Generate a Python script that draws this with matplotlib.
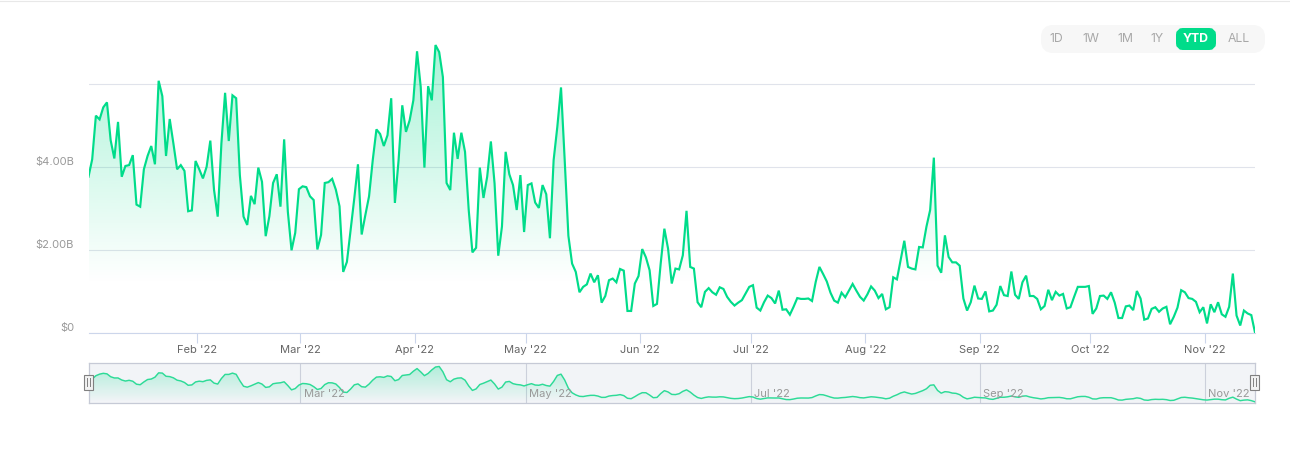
import matplotlib
matplotlib.use("Agg")
import matplotlib.pyplot as plt
import matplotlib.dates as mdates
from matplotlib.patches import FancyBboxPatch, Rectangle
import numpy as np
import pandas as pd

plt.rcParams['font.family'] = ['Inter', 'DejaVu Sans']

# Volume journalier, en milliards de dollars, mois par mois
jan = [3.77,4.19,5.24,5.15,5.44,5.56,4.65,4.21,5.09,3.77,4.03,4.05,4.29,3.10,3.05,3.95,4.27,4.51,4.07,6.08,
       5.71,4.27,5.16,4.57,3.95,4.05,3.91,2.94,2.96,4.15]
feb = [3.95,3.73,4.01,4.64,3.46,2.81,4.57,5.79,4.63,5.73,5.66,3.81,2.81,2.61,3.31,3.11,3.99,3.65,2.34,2.82,
       3.62,3.83,3.05,4.67,2.93,2.00,2.42,3.47]
mar = [3.54,3.52,3.30,3.21,2.02,2.37,3.62,3.64,3.72,3.46,3.06,1.48,1.72,2.49,3.25,4.07,2.38,2.85,3.30,4.17,
       4.91,4.80,4.51,4.77,5.66,3.14,4.17,5.49,4.85,5.13,5.61]
apr = [6.79,5.93,3.99,5.95,5.61,6.94,6.77,6.17,3.62,3.45,4.83,4.20,4.83,4.37,2.97,1.95,2.06,3.99,3.26,3.77,
       4.62,3.61,1.87,2.57,4.37,3.83,3.57,2.97,3.81,2.44]
may = [3.57,3.61,3.15,3.02,3.57,3.35,2.29,4.17,4.97,5.92,4.17,2.35,1.68,1.48,0.99,1.12,1.18,1.44,1.23,1.40,
       0.74,0.90,1.28,1.32,1.23,1.55,1.51,0.54,0.54,1.20,1.38]
jun = [2.03,1.83,1.52,0.66,0.71,1.68,2.52,2.04,1.20,1.56,1.54,1.88,2.95,1.60,1.56,0.75,0.63,1.00,1.09,0.99,
       0.93,1.11,1.07,0.88,0.76,0.67,0.74,0.80,0.96,1.12]
jul = [1.16,0.62,0.55,0.75,0.91,0.85,0.72,1.03,0.57,0.58,0.45,0.64,0.85,0.83,0.83,0.84,0.78,1.24,1.60,1.43,
       1.25,0.98,0.79,0.74,0.98,0.87,1.03,1.19,1.03,0.88,0.79]
aug = [0.94,1.13,1.03,0.85,0.95,0.58,0.63,1.35,1.30,1.76,2.23,1.60,1.56,1.54,2.08,2.07,2.57,2.97,4.23,1.63,
       1.46,2.36,1.84,1.71,1.71,1.63,0.84,0.55,0.75,1.15,0.84]
sep = [0.83,1.01,0.53,0.55,0.69,1.14,0.92,0.90,1.49,0.93,0.83,1.23,1.39,0.90,0.90,0.83,0.58,0.66,1.05,0.80,
       1.00,0.91,0.95,0.60,0.63,0.88,1.12,1.12,1.12,1.14]
oct_ = [0.47,0.60,0.90,0.91,0.83,0.99,0.74,0.37,0.37,0.65,0.67,0.56,1.02,0.84,0.33,0.36,0.59,0.63,0.52,0.60,
        0.64,0.22,0.40,0.62,1.04,0.99,0.85,0.83,0.76,0.51,0.63]
nov = [0.24,0.70,0.51,0.75,0.46,0.40,0.64,1.44,0.43,0.19,0.55,0.48,0.44,0.02]

y_ticks = [0, 2, 4, 6]
y_labels = ["$0", "$2.00B", "$4.00B", ""]
months = ["2022-02-01", "2022-03-01", "2022-04-01", "2022-05-01", "2022-06-01",
          "2022-07-01", "2022-08-01", "2022-09-01", "2022-10-01", "2022-11-01"]
nav_months = ["2022-03-01", "2022-05-01", "2022-07-01", "2022-09-01", "2022-11-01"]
buttons = ["1D", "1W", "1M", "1Y", "YTD", "ALL"]

GREEN = "#00dc8a"
W, H = 1290, 451

volume = np.array(jan + feb + mar + apr + may + jun + jul + aug + sep + oct_ + nov)
dates = pd.date_range("2022-01-02 14:00", periods=len(volume), freq="D")
x = mdates.date2num(dates)


# Crée des axes à partir de coordonnées en pixels
def axes_px(left, top, right, bottom):
    return fig.add_axes([left / W, 1 - bottom / H, (right - left) / W, (bottom - top) / H])


# Remplit sous la courbe avec un dégradé vert qui s'efface vers le bas
def gradient_fill(ax, xs, ys, y_top, y_bottom, alpha_top):
    poly = ax.fill_between(xs, ys, 0, color="none", lw=0)
    grad = np.zeros((256, 1, 4))
    grad[:, :, :3] = matplotlib.colors.to_rgb(GREEN)
    grad[:, :, 3] = np.linspace(alpha_top, 0, 256)[:, None]
    im = ax.imshow(grad, aspect="auto", origin="upper", interpolation="bilinear",
                   extent=[xs[0], xs[-1], y_bottom, y_top], zorder=1)
    im.set_clip_path(poly.get_paths()[0], transform=ax.transData)


fig = plt.figure(figsize=(W / 100, H / 100), dpi=100, facecolor="white")

# Graphique principal
ax = axes_px(88.5, 30, 1255, 333.4)
ax.patch.set_alpha(0)
gradient_fill(ax, x, volume, 7.0, 1.2, 0.34)
ax.plot(x, volume, color=GREEN, lw=1.55, zorder=3, solid_joinstyle="miter")
ax.set_xlim(x[0], x[-1])
ax.set_ylim(0, 303.4 / 41.55)
ax.set_yticks(y_ticks)
ax.set_yticklabels(y_labels, color="#999999", fontsize=8)
for lab in ax.get_yticklabels():
    lab.set_verticalalignment("bottom")
ax.set_xticks(mdates.date2num(pd.to_datetime(months)))
ax.xaxis.set_major_formatter(mdates.DateFormatter("%b '%y"))
ax.tick_params(axis="y", length=0, pad=10.4)
ax.tick_params(axis="x", length=7, width=0.8, color="#ccd6eb", labelcolor="#666666", labelsize=8, pad=1.5)
ax.grid(axis="y", color="#e0e3eb", lw=0.8, zorder=0)
ax.set_axisbelow(True)
for side in ["top", "right", "left"]:
    ax.spines[side].set_visible(False)
ax.spines["bottom"].set_color("#ccd6eb")
ax.spines["bottom"].set_linewidth(0.8)

# Navigateur
nav = axes_px(88.5, 362.5, 1255, 402.5)
nav.set_facecolor("#f2f4f7")
smooth = np.convolve(np.pad(volume, 1, mode="edge"), [0.25, 0.5, 0.25], mode="valid")
gradient_fill(nav, x, smooth, 7.4, 0, 0.3)
nav.plot(x, smooth, color="#2ddb97", lw=1.05, zorder=3)
nav.set_xlim(x[0], x[-1])
nav.set_ylim(0, 7.4)
nav.set_yticks([])
nav.set_xticks(mdates.date2num(pd.to_datetime(nav_months)))
nav.set_xticklabels([])
nav.tick_params(axis="x", length=0)
nav.grid(axis="x", color="#ccd0db", lw=0.8)
nav.set_axisbelow(True)
for side in nav.spines:
    nav.spines[side].set_color("#c6cad6")
    nav.spines[side].set_linewidth(0.9)
for m in nav_months:
    d = mdates.date2num(pd.Timestamp(m))
    nav.annotate(pd.Timestamp(m).strftime("%b '%y"), (d, 0), xytext=(2.6, 2.6), textcoords="offset points",
                 color="#999999", fontsize=8, ha="left", va="bottom", zorder=4)

# Éléments d'interface, placés en pixels
ui = fig.add_axes([0, 0, 1, 1], zorder=5)
ui.set_xlim(0, W)
ui.set_ylim(H, 0)
ui.axis("off")
ui.patch.set_alpha(0)
ui.plot([0, W], [0.5, 0.5], color="#e8e8e8", lw=0.8)
ui.add_patch(FancyBboxPatch((1047, 31), 212, 16, boxstyle="round,pad=0,rounding_size=6",
                            mutation_aspect=1, fc="#f7f7f7", ec="#f7f7f7", lw=12 * 0.72 * 1.0))
ui.add_patch(FancyBboxPatch((1180, 32), 32, 14, boxstyle="round,pad=0,rounding_size=3",
                            fc=GREEN, ec=GREEN, lw=8 * 0.72))
for label, px in zip(buttons, [1056, 1090.5, 1125, 1157, 1196, 1238.5]):
    active = label == "YTD"
    ui.text(px, 39, label, ha="center", va="center", fontsize=8.8,
            color="white" if active else "#a8a8a8", fontweight="bold" if active else "normal")
for px in [88.5, 1254.5]:
    ui.add_patch(Rectangle((px - 4.5, 374.5), 9, 15, fc="#f2f2f2", ec="#808080", lw=0.8))
    ui.plot([px - 1.5, px - 1.5], [378, 386], color="#808080", lw=0.7)
    ui.plot([px + 1.5, px + 1.5], [378, 386], color="#808080", lw=0.7)

fig.savefig("out.png", dpi=100)
